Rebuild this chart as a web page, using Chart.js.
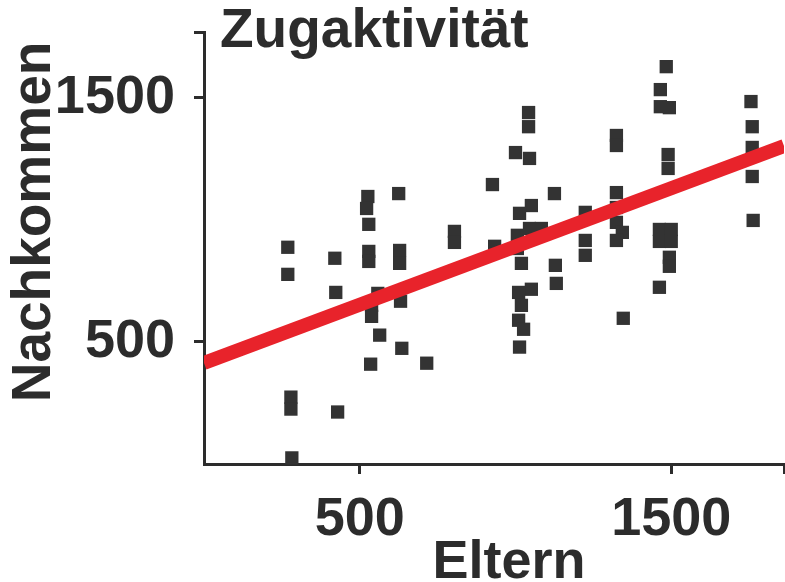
<!DOCTYPE html>
<html>
<head>
<meta charset="utf-8">
<script src="https://cdn.jsdelivr.net/npm/chart.js@4.4.0/dist/chart.umd.min.js"></script>
<style>
  html, body { margin: 0; padding: 0; background: #fff; }
  #wrap { width: 785px; height: 582px; }
</style>
</head>
<body>
<div id="wrap"><canvas id="chart" width="785" height="582"></canvas></div>
<script>
// Eltern (x) / Nachkommen (y)
const eltern = [
  269, 269, 279, 279, 282, 420, 423, 429,
  526, 522, 529, 529, 529, 558, 538, 538, 564, 535,
  625, 628, 628, 631, 635, 715, 804, 804, 926, 933,
  1042, 1042, 1000, 1045, 1051, 1013, 1083, 1045, 1006, 1006, 1019, 1051, 1010, 1019, 1010, 1026, 1013,
  1125, 1128, 1131, 1224, 1224, 1224,
  1324, 1324, 1324, 1324, 1324, 1343, 1324, 1346,
  1484, 1465, 1465, 1494, 1490, 1490, 1462, 1500, 1462, 1500, 1494, 1494, 1462,
  1756, 1760, 1760, 1760, 1763
];
const nachkommen = [
  888, 777, 274, 225, 25, 843, 703, 213,
  1096, 1047, 982, 871, 830, 699, 650, 605, 528, 409,
  1108, 875, 822, 667, 474, 413, 953, 908, 1145, 892,
  1440, 1382, 1276, 1252, 1059, 1027, 965, 965, 937, 883, 822, 716, 703, 650, 589, 552, 479,
  1108, 814, 740, 1031, 916, 855,
  1346, 1305, 1112, 1051, 990, 949, 916, 597,
  1628, 1534, 1464, 1460, 1268, 1211, 961, 961, 912, 912, 847, 810, 724,
  1485, 1382, 1297, 1178, 998
];
// regression line end points
const fitX = [0, 1862];
const fitY = [414, 1303];

const xTickValues = [500, 1500];
const yTickValues = [500, 1500];
const xMax = 1862;
const yMax = 1770;

const ink = '#2c2c2c';
const fontFamily = '"Liberation Sans", Arial, sans-serif';

const points = eltern.map((x, i) => ({ x: x, y: nachkommen[i] }));
const fit = fitX.map((x, i) => ({ x: x, y: fitY[i] }));

// titles are drawn by hand so they sit where the original has them
const titlesPlugin = {
  id: 'titles',
  afterDraw(chart) {
    const c = chart.ctx;
    c.save();
    c.fillStyle = ink;
    c.textBaseline = 'alphabetic';
    c.font = 'bold 55px ' + fontFamily;
    c.textAlign = 'left';
    c.fillText('Zugaktivität', 220, 47);
    c.font = 'bold 54px ' + fontFamily;
    c.textAlign = 'center';
    c.fillText('Eltern', 509, 578);
    c.translate(50, 222);
    c.rotate(-Math.PI / 2);
    c.font = 'bold 55px ' + fontFamily;
    c.fillText('Nachkommen', 0, 0);
    c.restore();
  }
};

function axisTicks(values, max) {
  return axis => {
    axis.ticks = values.concat([max]).map(v => ({ value: v }));
  };
}

// fixed axis size, and no extra room for the tick labels at the ends
function fixSize(prop, size) {
  return s => {
    s[prop] = size;
    s.paddingTop = 0;
    s.paddingBottom = 0;
    s.paddingLeft = 0;
    s.paddingRight = 0;
  };
}

const ctx = document.getElementById('chart').getContext('2d');
new Chart(ctx, {
  type: 'scatter',
  data: {
    datasets: [
      {
        type: 'line',
        data: fit,
        borderColor: '#e8232b',
        borderWidth: 14,
        pointRadius: 0,
        fill: false,
        clip: 0,
        order: 0
      },
      {
        data: points,
        pointStyle: 'rect',
        pointRadius: 9.4,
        pointBorderWidth: 0,
        backgroundColor: '#333333',
        borderColor: '#333333',
        clip: false,
        order: 1
      }
    ]
  },
  options: {
    responsive: false,
    animation: false,
    layout: { autoPadding: false, padding: { top: 32, right: 1, left: 0, bottom: 0 } },
    plugins: {
      legend: { display: false },
      tooltip: { enabled: false }
    },
    scales: {
      x: {
        type: 'linear',
        min: 0,
        max: xMax,
        afterBuildTicks: axisTicks(xTickValues, xMax),
        afterFit: fixSize('height', 118),
        border: { display: true, color: ink, width: 3 },
        grid: {
          drawOnChartArea: false,
          drawTicks: true,
          tickLength: 10,
          tickWidth: 3,
          tickColor: ink
        },
        ticks: {
          padding: 14,
          color: ink,
          font: { family: fontFamily, size: 54, weight: 'bold' },
          maxRotation: 0,
          callback: v => (xTickValues.includes(v) ? String(v) : '')
        }
      },
      y: {
        type: 'linear',
        min: 0,
        max: yMax,
        afterBuildTicks: axisTicks(yTickValues, yMax),
        afterFit: fixSize('width', 204),
        border: { display: true, color: ink, width: 3 },
        grid: {
          drawOnChartArea: false,
          drawTicks: true,
          tickLength: 10,
          tickWidth: 3,
          tickColor: ink
        },
        ticks: {
          padding: 19,
          color: ink,
          font: { family: fontFamily, size: 54, weight: 'bold' },
          callback: v => (yTickValues.includes(v) ? String(v) : '')
        }
      }
    }
  },
  plugins: [titlesPlugin]
});
</script>
</body>
</html>
